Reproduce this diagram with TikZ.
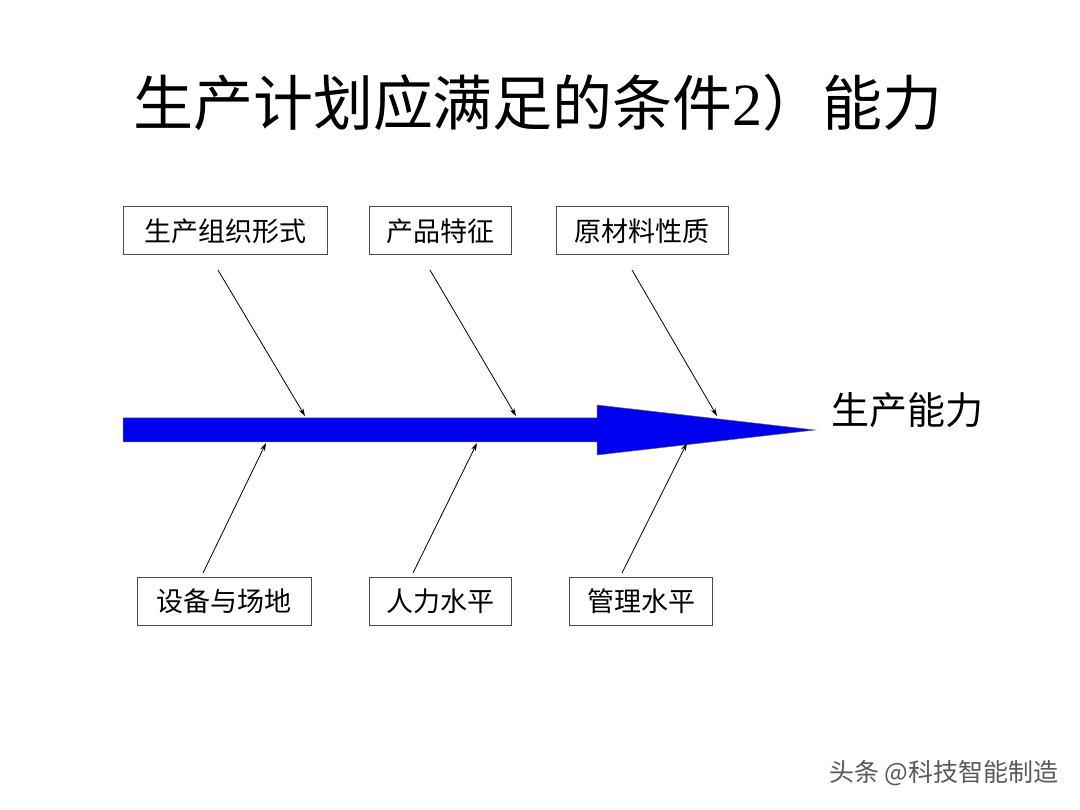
\documentclass[tikz,border=0pt]{standalone}
\usepackage{fontspec}
\newfontfamily\cjk{Noto Sans CJK SC}
\usetikzlibrary{arrows.meta}
\begin{document}
\begin{tikzpicture}[x=1pt,y=-1pt,
  box/.style={draw=black!70,line width=1pt,minimum height=48pt,inner xsep=8pt,font=\cjk\fontsize{27}{30}\selectfont},
  cause/.style={-{Stealth[length=8pt,width=5pt]},line width=0.8pt}]
\useasboundingbox[fill=white] (0,0) rectangle (1080,810);
\node (title) at (538,103) {\cjk\fontsize{60}{66}\selectfont 生产计划应满足的条件\fontspec{Liberation Serif}2\cjk）能力};
\node[box,minimum width=204pt] (t1) at (225,231) {生产组织形式};
\node[box,minimum width=142pt] (t2) at (440,231) {产品特征};
\node[box,minimum width=172pt] (t3) at (642,231) {原材料性质};
\node[box,minimum width=174pt] (b1) at (224,601) {设备与场地};
\node[box,minimum width=142pt] (b2) at (440,601) {人力水平};
\node[box,minimum width=143pt] (b3) at (641,601) {管理水平};
\draw[fill={rgb,255:red,0;green,0;blue,240},draw=black!60,line width=0.5pt]
  (123,418) -- (597,418) -- (597,405) -- (815,430) -- (597,455) -- (597,442) -- (123,442) -- cycle;
\coordinate (tip) at (815,430);
\node[anchor=west,font=\cjk\fontsize{38}{44}\selectfont] (eff) at (828,410) {生产能力};
\coordinate (e1) at (305,416); \coordinate (e2) at (516,416); \coordinate (e3) at (717,416);
\coordinate (f1) at (266,443); \coordinate (f2) at (477,443); \coordinate (f3) at (687,443);
\draw[cause] (218,270) -- (e1);
\draw[cause] (430,270) -- (e2);
\draw[cause] (632,270) -- (e3);
\draw[cause] (203,573) -- (f1);
\draw[cause] (413,573) -- (f2);
\draw[cause] (622,573) -- (f3);
\node[anchor=east,text=black!65,font=\cjk\fontsize{25}{28}\selectfont] (wm) at (1062,773) {头条 @科技智能制造};
\end{tikzpicture}
\end{document}
